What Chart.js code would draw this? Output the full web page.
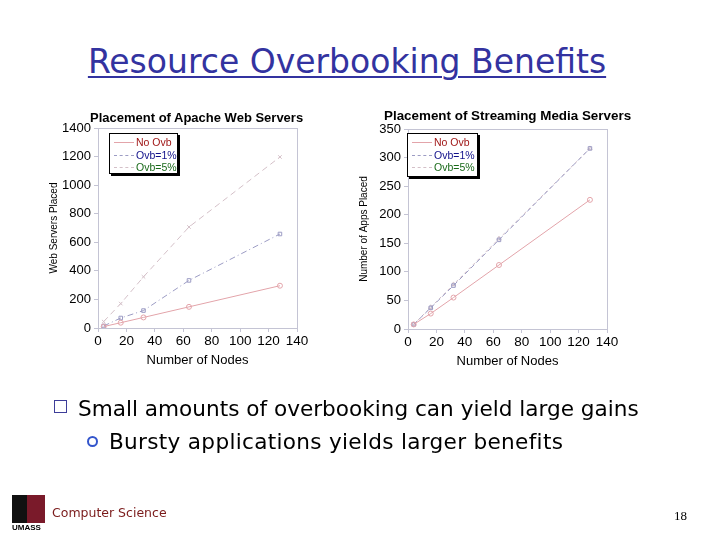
<!DOCTYPE html>
<html>
<head>
<meta charset="utf-8">
<script src="https://cdn.jsdelivr.net/npm/chart.js@4.4.1/dist/chart.umd.min.js"></script>
<style>
  html, body { margin: 0; padding: 0; background: #fff; }
  #page { position: relative; width: 720px; height: 540px; overflow: hidden; background: #fff; }
  canvas.full { position: absolute; left: 0; top: 0; }
  .abs { position: absolute; white-space: nowrap; }
  #title { left: 0; width: 694px; text-align: center; top: 42px; font-family: "DejaVu Sans", sans-serif; font-size: 33px; color: #3333a0; text-decoration: underline; text-decoration-thickness: 2px; text-underline-offset: 3px; }
  .ctitle { font-family: "Liberation Sans", Arial, sans-serif; font-weight: bold; color: #000; }
  .legend { position: absolute; background: #fff; border: 1px solid #000; box-shadow: 2px 2px 0 #000; font-family: "Liberation Sans", Arial, sans-serif; font-size: 10.5px; }
  .legend .row { position: relative; height: 12.5px; line-height: 12.5px; }
  .legend .smp { position: absolute; left: 4px; top: 6px; width: 20px; height: 0; border-top: 1px solid #ccc; }
  .legend .lbl { position: absolute; left: 26px; top: 0; }
  .bullet { font-family: "DejaVu Sans", sans-serif; color: #000; font-size: 21.6px; }
</style>
</head>
<body>
<div id="page">
  <div id="title" class="abs">Resource Overbooking Benefits</div>
  <canvas id="c1" class="full" width="720" height="540"></canvas>
  <canvas id="c2" class="full" width="720" height="540"></canvas>
  <div class="abs ctitle" style="left:90px; top:110px; font-size:13px;">Placement of Apache Web Servers</div>
  <div class="abs ctitle" style="left:384px; top:108px; font-size:13.4px;">Placement of Streaming Media Servers</div>
  <div class="legend" id="lg1" style="left:109px; top:133px; width:67px; height:39px;"></div>
  <div class="legend" id="lg2" style="left:407px; top:133px; width:69px; height:42px;"></div>
  <div class="abs" style="left:54px; top:400px; width:13px; height:13px; border:1.5px solid #3d3d99; box-sizing:border-box;"></div>
  <div class="abs bullet" style="left:78px; top:396px;">Small amounts of overbooking can yield large gains</div>
  <div class="abs" style="left:87px; top:436px; width:11px; height:11px; border:2px solid #3355cc; border-radius:50%; box-sizing:border-box;"></div>
  <div class="abs bullet" style="left:109px; top:429px; letter-spacing:0.3px;">Bursty applications yields larger benefits</div>
  <div class="abs" style="left:12px; top:495px; width:33px; height:28px; background:#7a1a2a;"></div>
  <div class="abs" style="left:12px; top:495px; width:15px; height:28px; background:#111;"></div>
  <div class="abs" style="left:12px; top:523px; font-family:'Liberation Sans',Arial,sans-serif; font-weight:bold; font-size:8px; color:#000;">UMASS</div>
  <div class="abs" style="left:52px; top:505px; font-family:'DejaVu Sans',sans-serif; font-size:12.5px; color:#7a1a1a;">Computer Science</div>
  <div class="abs" style="left:674px; top:508px; font-family:'Liberation Serif',serif; font-size:13px; color:#000;">18</div>
</div>
<script>
// ---------- data ----------
const nodes = [4, 16, 32, 64, 128];
const seriesNames = ["No Ovb", "Ovb=1%", "Ovb=5%"];
const apacheNoOvb = [10, 37, 74, 148, 296];
const apacheOvb1 = [14, 70, 122, 333, 658];
const apacheOvb5 = [45, 171, 358, 707, 1197];
const streamNoOvb = [8, 27, 55, 112, 226];
const streamOvb1 = [8, 37, 76, 156, 316];
const streamOvb5 = [8, 38, 78, 158, 316];
const xTicks = [0, 20, 40, 60, 80, 100, 120, 140];
const apacheYTicks = [0, 200, 400, 600, 800, 1000, 1200, 1400];
const streamYTicks = [0, 50, 100, 150, 200, 250, 300, 350];

const lineColors = ["#e3a4aa", "#9c9cc4", "#d4c0c8"];
const legendTextColors = ["#a01818", "#10108a", "#1a6a1a"];
const FONT = "'Liberation Sans', Arial, sans-serif";

function pts(ys) { return nodes.map((x, i) => ({ x: x, y: ys[i] })); }

const framePlugin = {
  id: 'frame',
  afterDraw(chart) {
    const a = chart.chartArea, ctx = chart.ctx;
    ctx.save();
    ctx.strokeStyle = '#c4c4d4';
    ctx.lineWidth = 1;
    ctx.strokeRect(a.left + 0.5, a.top + 0.5, a.right - a.left, a.bottom - a.top);
    ctx.restore();
  }
};

function makeChart(id, ys, yTicks, pad, dashes, shapes, yTitle) {
  const yMax = yTicks[yTicks.length - 1];
  return new Chart(document.getElementById(id), {
    type: 'line',
    data: {
      datasets: ys.map((arr, i) => ({
        label: seriesNames[i],
        data: pts(arr),
        borderColor: lineColors[i],
        backgroundColor: 'rgba(0,0,0,0)',
        borderWidth: 1,
        borderDash: dashes[i],
        pointStyle: shapes[i],
        pointRadius: 2.5,
        pointBorderWidth: 1,
        pointBorderColor: lineColors[i],
        pointBackgroundColor: 'rgba(0,0,0,0)',
        tension: 0
      }))
    },
    options: {
      responsive: false,
      animation: false,
      events: [],
      layout: { padding: pad },
      plugins: { legend: { display: false }, tooltip: { enabled: false }, title: { display: false } },
      scales: {
        x: {
          type: 'linear', min: 0, max: 140,
          afterBuildTicks: (s) => { s.ticks = xTicks.map(v => ({ value: v })); },
          ticks: { color: '#000', font: { family: FONT, size: 13.5 }, padding: 1, maxRotation: 0, callback: (v) => String(v) },
          grid: { drawOnChartArea: false, tickLength: 4, color: '#c4c4d4' },
          border: { color: '#c4c4d4' },
          title: { display: true, text: 'Number of Nodes', color: '#000', font: { family: FONT, size: 13 }, padding: { top: 0, bottom: 0 } },
          afterFit: (s) => { s.height = 40; }
        },
        y: {
          type: 'linear', min: 0, max: yMax,
          afterBuildTicks: (s) => { s.ticks = yTicks.map(v => ({ value: v })); },
          ticks: { color: '#000', font: { family: FONT, size: 13 }, padding: 3, callback: (v) => String(v) },
          grid: { drawOnChartArea: false, tickLength: 4, color: '#c4c4d4' },
          border: { color: '#c4c4d4' },
          title: { display: true, text: yTitle, color: '#000', font: { family: FONT, size: 10 }, padding: 0 },
          afterFit: (s) => { s.width = 50; }
        }
      }
    },
    plugins: [framePlugin]
  });
}

makeChart('c1', [apacheNoOvb, apacheOvb1, apacheOvb5], apacheYTicks,
  { left: 48, top: 128, right: 423, bottom: 172 },
  [[], [6, 3, 1, 3], [6, 4]], ['circle', 'rect', 'crossRot'], 'Web Servers Placed');

makeChart('c2', [streamNoOvb, streamOvb1, streamOvb5], streamYTicks,
  { left: 358, top: 129, right: 113, bottom: 171 },
  [[], [5, 3], [3, 3]], ['circle', 'rect', 'triangle'], 'Number of Apps Placed');

function buildLegend(id, dashes) {
  const el = document.getElementById(id);
  seriesNames.forEach((n, i) => {
    const row = document.createElement('div');
    row.className = 'row';
    const smp = document.createElement('div');
    smp.className = 'smp';
    smp.style.borderTop = '1px ' + (dashes[i] ? 'dashed ' : 'solid ') + lineColors[i];
    const lbl = document.createElement('div');
    lbl.className = 'lbl';
    lbl.style.color = legendTextColors[i];
    lbl.textContent = n;
    row.appendChild(smp); row.appendChild(lbl);
    el.appendChild(row);
  });
  el.firstChild.style.marginTop = '2px';
}
buildLegend('lg1', [false, true, true]);
buildLegend('lg2', [false, true, true]);
</script>
</body>
</html>
